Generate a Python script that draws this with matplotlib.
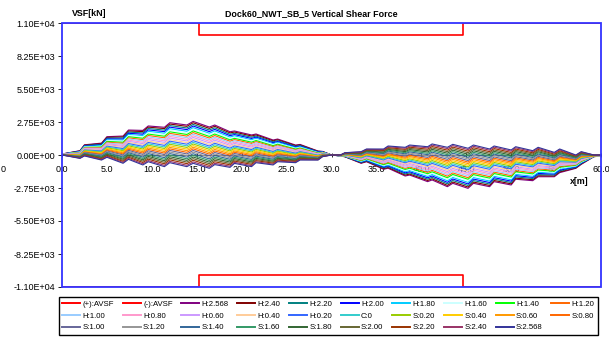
import numpy as np
import matplotlib
matplotlib.use("Agg")
import matplotlib.pyplot as plt
from matplotlib.patches import Rectangle

plt.rcParams['font.family'] = ['Liberation Sans', 'DejaVu Sans']

# stations along the dock [m]
x_m = [0.0, 2.0, 2.5, 4.4, 5.0, 6.8, 7.4, 9.0, 9.6, 11.4, 12.0, 13.9, 14.6,
       16.4, 17.0, 18.7, 19.2, 21.1, 21.6, 23.5, 24.0, 26.0, 26.5, 28.5, 29.0,
       30.0, 31.0, 31.5, 33.3, 33.9, 35.8, 36.3, 38.2, 38.7, 40.7, 41.2, 42.9,
       43.5, 45.2, 45.8, 47.6, 48.1, 50.0, 50.5, 52.4, 53.0, 54.8, 55.4, 57.2,
       57.8, 59.2, 60.0]

# shear force for the extreme hogging case H:2.568 [kN]
vsf_hog = [80, 360, 850, 990, 1525, 1580, 2080, 2050, 2420, 2310, 2690, 2500,
           2800, 2330, 2500, 1940, 2000, 1670, 1750, 1250, 1330, 830, 880, 330,
           300, 0, -80, -150, -690, -560, -1190, -1100, -1750, -1670, -2220,
           -2080, -2640, -2360, -2780, -2360, -2640, -2220, -2500, -2020, -2140,
           -1810, -1810, -1470, -1110, -780, -140, -80]

# shear force for the extreme sagging case S:2.568 [kN]
vsf_sag = [0, -280, -80, -420, -190, -690, -360, -830, -560, -970, -640, -970,
           -690, -1110, -800, -1030, -700, -970, -640, -830, -560, -640, -420,
           -420, -140, 0, 0, 190, 280, 500, 500, 750, 640, 830, 690, 920, 640,
           890, 560, 830, 500, 750, 420, 690, 360, 640, 220, 500, 0, 280, 0, 0]

# allowable shear force envelope
avsf_x = [0.0, 15.2, 15.2, 44.6, 44.6, 60.0]
avsf_pos = [11000, 11000, 10000, 10000, 11000, 11000]
avsf_neg = [-11000, -11000, -10000, -10000, -11000, -11000]

# wave cases: H = hogging, C = calm, S = sagging
wave_labels = ['H:2.568', 'H:2.40', 'H:2.20', 'H:2.00', 'H:1.80', 'H:1.60',
               'H:1.40', 'H:1.20', 'H:1.00', 'H:0.80', 'H:0.60', 'H:0.40',
               'H:0.20', 'C:0', 'S:0.20', 'S:0.40', 'S:0.60', 'S:0.80',
               'S:1.00', 'S:1.20', 'S:1.40', 'S:1.60', 'S:1.80', 'S:2.00',
               'S:2.20', 'S:2.40', 'S:2.568']
wave_height = [2.568, 2.40, 2.20, 2.00, 1.80, 1.60, 1.40, 1.20, 1.00, 0.80,
               0.60, 0.40, 0.20, 0.0, -0.20, -0.40, -0.60, -0.80, -1.00, -1.20,
               -1.40, -1.60, -1.80, -2.00, -2.20, -2.40, -2.568]
wave_colors = ['#800080', '#800000', '#008080', '#0000FF', '#00CCFF',
               '#CCFFFF', '#00FF00', '#FF6600', '#99CCFF', '#FF99CC',
               '#CC99FF', '#FFCC99', '#3366FF', '#33CCCC', '#99CC00',
               '#FFCC00', '#FF9900', '#FF6600', '#666699', '#969696',
               '#336699', '#339966', '#336633', '#666633', '#993300',
               '#993366', '#333399']

hog = np.array(vsf_hog, dtype=float)
sag = np.array(vsf_sag, dtype=float)
still = (hog + sag) / 2          # calm water part
wave = (hog - sag) / (2 * 2.568)  # wave part per metre of wave height

fig = plt.figure(figsize=(6.09, 3.40), dpi=100)
ax = fig.add_axes([62 / 609, 1 - 287 / 340, 539 / 609, 264 / 340])

handles = []
h, = ax.plot(avsf_x, avsf_pos, color='#FF0000', lw=1.2, label='(+):AVSF')
handles.append(h)
h, = ax.plot(avsf_x, avsf_neg, color='#FF0000', lw=1.2, label='(-):AVSF')
handles.append(h)
for lab, hw, col in zip(wave_labels, wave_height, wave_colors):
    h, = ax.plot(x_m, still + hw * wave, color=col, lw=0.8, label=lab)
    handles.append(h)

ax.set_xlim(0, 60)
ax.set_ylim(-11000, 11000)
yt = [-11000, -8250, -5500, -2750, 0, 2750, 5500, 8250, 11000]
ax.set_yticks(yt)
ax.set_yticklabels(['%.2E' % v for v in yt])
ax.set_xticks(np.arange(0, 61, 5))
ax.set_xticklabels(['%.1f' % v for v in np.arange(0, 61, 5)])

# x axis crosses at zero, frame drawn separately in blue
for s in ['top', 'right', 'left']:
    ax.spines[s].set_visible(False)
ax.spines['bottom'].set_position(('data', 0))
ax.spines['bottom'].set_color('#404040')
ax.spines['bottom'].set_linewidth(0.6)
ax.spines['bottom'].set_zorder(1)
ax.add_patch(Rectangle((0, 0), 1, 1, transform=ax.transAxes, fill=False,
                       ec='#3333FF', lw=1.3, zorder=5, clip_on=False))

ax.tick_params(axis='y', labelsize=6.5, length=3, width=0.6, pad=2)
ax.tick_params(axis='x', labelsize=6.5, length=3, width=0.6, pad=6,
               direction='inout')

fig.text(72 / 609, 1 - 14 / 340, 'VSF[kN]', fontsize=6.4, fontweight='bold',
         va='center', ha='left')
fig.text(311 / 609, 1 - 14 / 340, 'Dock60_NWT_SB_5 Vertical Shear Force',
         fontsize=6.4, fontweight='bold', va='center', ha='center')
fig.text(570 / 609, 1 - 182 / 340, 'x[m]', fontsize=6.4, fontweight='bold',
         va='center', ha='left')
fig.text(1 / 609, 1 - 169 / 340, '0', fontsize=6.5, va='center', ha='left')

# legend reads row by row, matplotlib fills column by column
ncol = 10
rows = [handles[i:i + ncol] for i in range(0, len(handles), ncol)]
ordered = []
for c in range(ncol):
    for r in rows:
        if c < len(r):
            ordered.append(r[c])
leg = ax.legend(handles=ordered, labels=[o.get_label() for o in ordered],
                ncol=ncol, loc='lower left',
                bbox_to_anchor=(-0.0056, -0.1818, 1.0, 0.1515), mode='expand',
                borderaxespad=0, fontsize=5.6, handlelength=2.3,
                handletextpad=0.3, labelspacing=0.55, borderpad=0.45,
                fancybox=False, framealpha=1, edgecolor='black')
leg.get_frame().set_linewidth(1.0)
for line in leg.get_lines():
    line.set_linewidth(1.4)

fig.savefig('out.png', dpi=100)
